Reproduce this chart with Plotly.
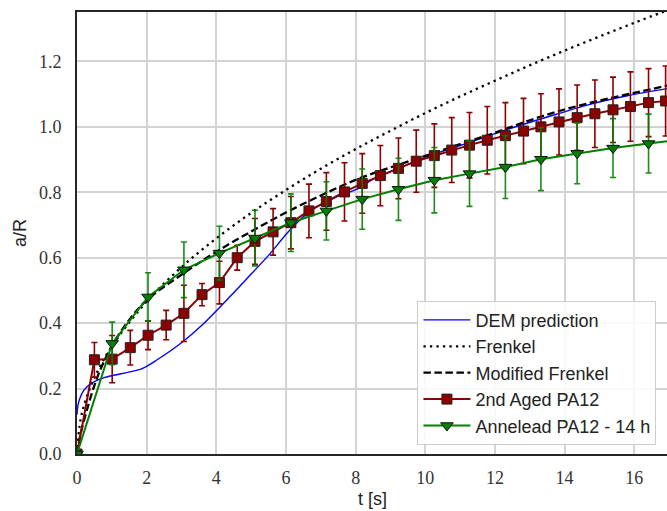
import plotly.graph_objects as go

# ---- data ----
dem_t = [0.0, 0.03, 0.1, 0.2, 0.4, 0.8, 1.3, 1.85, 2.3, 3.0, 3.6, 4.4, 5.0, 5.5, 6.1, 6.7,
         7.4, 8.1, 8.5, 9.5, 10.4, 11.4, 12.3, 13.5, 14.7, 15.8, 16.95]
dem_a = [0.12, 0.15, 0.175, 0.195, 0.215, 0.234, 0.246, 0.26, 0.288, 0.34, 0.395, 0.482, 0.55,
         0.607, 0.683, 0.743, 0.783, 0.813, 0.84, 0.885, 0.922, 0.957, 0.99, 1.03, 1.068, 1.095, 1.117]

frenkel_t = [0, 0.1, 0.25, 0.5, 1, 2, 3, 4, 5, 6, 7, 8, 9, 10, 11, 12, 13, 14, 15, 16, 17]
frenkel_a = [0, 0.104, 0.165, 0.233, 0.329, 0.466, 0.571, 0.659, 0.737, 0.807, 0.872, 0.932,
             0.988, 1.042, 1.093, 1.141, 1.188, 1.233, 1.276, 1.318, 1.358]

modfr_t = [0, 0.1, 0.3, 0.5, 0.7, 1.0, 1.5, 2, 3, 4, 5, 6, 7, 8, 9, 10, 11, 12, 13, 14, 15, 16, 17]
modfr_a = [0, 0.06, 0.14, 0.21, 0.265, 0.33, 0.41, 0.47, 0.548, 0.618, 0.68, 0.738, 0.79, 0.838,
           0.876, 0.911, 0.947, 0.982, 1.02, 1.053, 1.08, 1.104, 1.127]

aged_t = [0, 0.5, 1.01, 1.53, 2.04, 2.56, 3.07, 3.59, 4.09, 4.6, 5.11, 5.63, 6.14, 6.66, 7.16,
          7.68, 8.19, 8.71, 9.23, 9.74, 10.26, 10.76, 11.27, 11.78, 12.3, 12.82, 13.32, 13.84,
          14.36, 14.87, 15.39, 15.89, 16.41, 16.9]
aged_a = [0, 0.288, 0.29, 0.325, 0.363, 0.394, 0.43, 0.487, 0.524, 0.6, 0.65, 0.679, 0.707, 0.743,
          0.772, 0.801, 0.827, 0.851, 0.873, 0.895, 0.912, 0.929, 0.944, 0.959, 0.973, 0.987, 1.0,
          1.015, 1.028, 1.04, 1.052, 1.062, 1.074, 1.079]
aged_err = [0, 0.053, 0.072, 0.053, 0.044, 0.045, 0.086, 0.034, 0.065, 0.038, 0.07, 0.071, 0.08,
            0.082, 0.088, 0.089, 0.091, 0.092, 0.093, 0.095, 0.097, 0.099, 0.1, 0.103, 0.101, 0.1,
            0.101, 0.101, 0.1, 0.103, 0.1, 0.106, 0.104, 0.107]

ann_t = [0, 1.01, 2.04, 3.07, 4.09, 5.11, 6.14, 7.16, 8.19, 9.23, 10.26, 11.27, 12.3, 13.32,
         14.36, 15.39, 16.41, 17.43]
ann_a = [0, 0.338, 0.48, 0.563, 0.614, 0.66, 0.707, 0.743, 0.779, 0.809, 0.837, 0.857, 0.877,
         0.901, 0.919, 0.935, 0.949, 0.962]
ann_err = [0, 0.065, 0.074, 0.085, 0.082, 0.085, 0.088, 0.089, 0.092, 0.095, 0.1, 0.1, 0.096,
           0.096, 0.093, 0.09, 0.09, 0.09]

x_ticks = [0, 2, 4, 6, 8, 10, 12, 14, 16]
y_ticks = [0.0, 0.2, 0.4, 0.6, 0.8, 1.0, 1.2]
y_tick_text = ["0.0", "0.2", "0.4", "0.6", "0.8", "1.0", "1.2"]

SANS = "Liberation Sans, Arial, sans-serif"
SERIF = "Liberation Serif, Times New Roman, serif"

fig = go.Figure()
fig.add_trace(go.Scatter(x=dem_t, y=dem_a, mode="lines", name="DEM prediction",
                         line=dict(color="#0000ff", width=1.4, shape="spline", smoothing=0.8)))
fig.add_trace(go.Scatter(x=frenkel_t, y=frenkel_a, mode="lines", name="Frenkel",
                         line=dict(color="black", width=2.3, dash="2.3px,4.2px", shape="spline")))
fig.add_trace(go.Scatter(x=modfr_t, y=modfr_a, mode="lines", name="Modified Frenkel",
                         line=dict(color="black", width=2.3, dash="7.5px,3.5px", shape="spline")))
fig.add_trace(go.Scatter(x=aged_t, y=aged_a, mode="lines+markers", name="2nd Aged PA12",
                         line=dict(color="#8b0000", width=2),
                         marker=dict(symbol="square", size=10, color="#8b0000",
                                     line=dict(color="#222222", width=1)),
                         error_y=dict(type="data", array=aged_err, visible=True,
                                      color="#8b0000", thickness=1.6, width=3)))
fig.add_trace(go.Scatter(x=ann_t, y=ann_a, mode="lines+markers", name="Annelead PA12 - 14 h",
                         line=dict(color="#008000", width=2),
                         marker=dict(symbol="triangle-down", size=11, color="#008000",
                                     line=dict(color="#111111", width=1)),
                         error_y=dict(type="data", array=ann_err, visible=True,
                                      color="rgba(0,128,0,0.9)", thickness=1.6, width=3)))

fig.update_layout(
    width=667, height=511,
    margin=dict(l=77, r=0, t=12, b=57, autoexpand=False),
    plot_bgcolor="white", paper_bgcolor="white",
    showlegend=True,
    legend=dict(x=0.577, y=0.021, xanchor="left", yanchor="bottom",
                bgcolor="rgba(255,255,255,0.85)", bordercolor="#cccccc", borderwidth=1,
                font=dict(family=SANS, size=18, color="#222222"),
                itemwidth=47),
    xaxis=dict(range=[0, 16.94], tickvals=x_ticks, ticktext=[str(v) for v in x_ticks],
               showgrid=True, gridcolor="#d3d3d3", gridwidth=1.5, automargin=False,
               showline=True, linecolor="#262626", linewidth=2, mirror=True,
               ticks="outside", ticklen=6, tickcolor="rgba(0,0,0,0)",
               tickfont=dict(family=SERIF, size=18, color="#333333"),
               zeroline=False),
    yaxis=dict(range=[0, 1.351], tickvals=y_ticks, ticktext=y_tick_text,
               showgrid=True, gridcolor="#d3d3d3", gridwidth=1.5, automargin=False,
               showline=True, linecolor="#262626", linewidth=2, mirror=False,
               ticks="outside", ticklen=10, tickcolor="rgba(0,0,0,0)",
               tickfont=dict(family=SERIF, size=18, color="#333333"),
               zeroline=False),
    annotations=[
        dict(text="t [s]", xref="paper", yref="paper", x=0.5, y=0, yshift=-45,
             xanchor="center", yanchor="middle", showarrow=False,
             font=dict(family=SANS, size=18, color="#222222")),
        dict(text="a/R", xref="paper", yref="paper", x=0, y=0.5, xshift=-57,
             xanchor="center", yanchor="middle", showarrow=False, textangle=-90,
             font=dict(family=SANS, size=18, color="#222222")),
    ],
)

fig.write_html("out.html", config={"displayModeBar": False},
               post_script="document.body.style.margin='0';document.body.style.padding='0';")
